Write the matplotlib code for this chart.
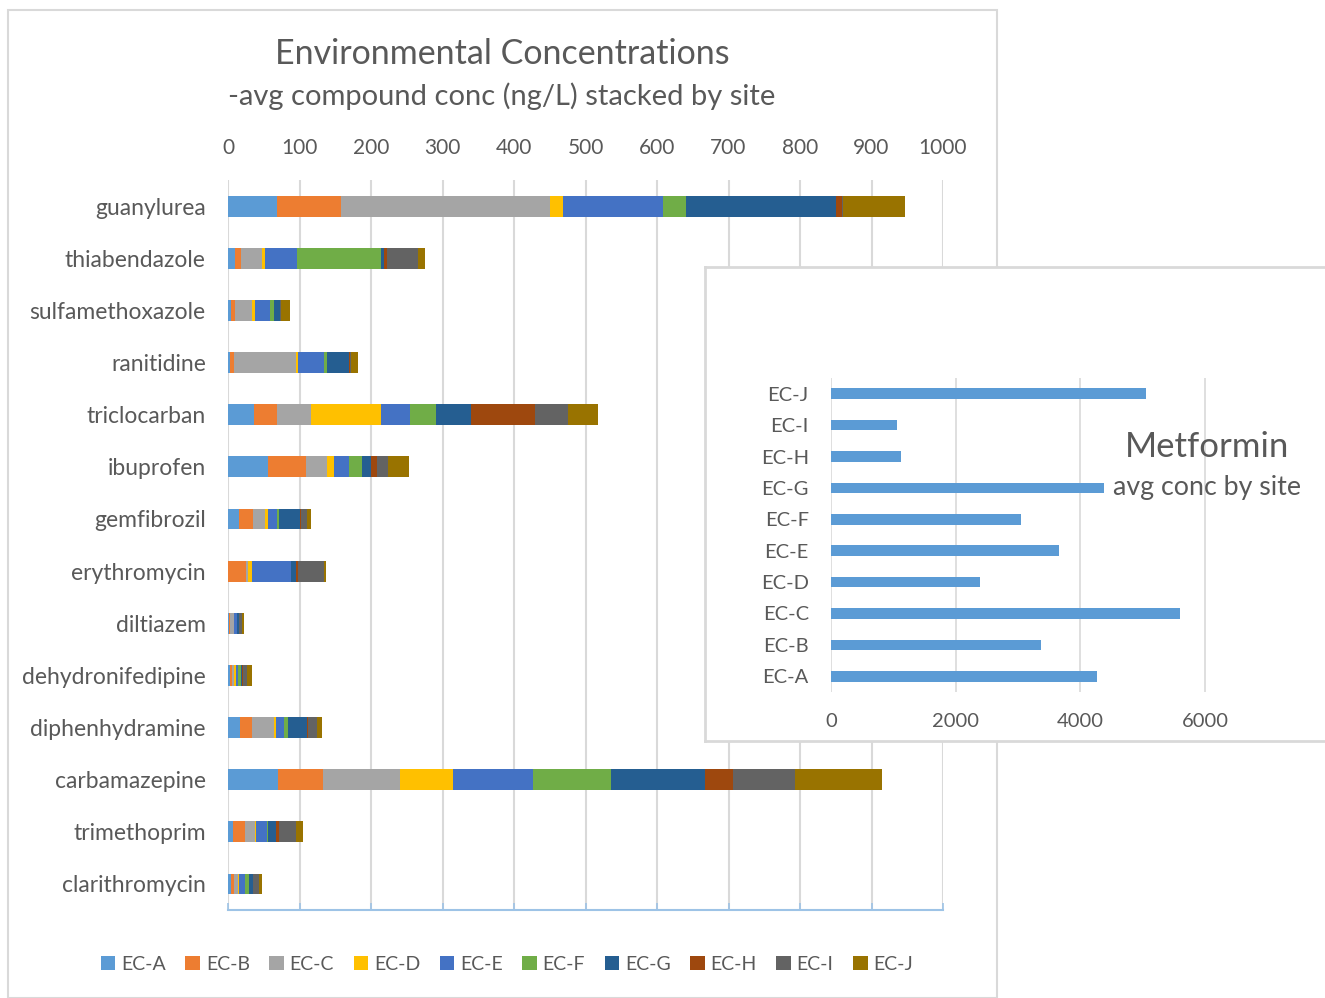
import matplotlib
matplotlib.use("Agg")
import matplotlib.pyplot as plt
from matplotlib.patches import Rectangle
import numpy as np

plt.rcParams['font.family'] = ['Lato', 'DejaVu Sans']

compounds = ["guanylurea", "thiabendazole", "sulfamethoxazole", "ranitidine", "triclocarban",
             "ibuprofen", "gemfibrozil", "erythromycin", "diltiazem", "dehydronifedipine",
             "diphenhydramine", "carbamazepine", "trimethoprim", "clarithromycin"]
sites = ["EC-A", "EC-B", "EC-C", "EC-D", "EC-E", "EC-F", "EC-G", "EC-H", "EC-I", "EC-J"]

ec_a = [69, 9.5, 4.7, 3.3, 36.3, 55.4, 14.9, 0.5, 1, 3, 17, 69.4, 7, 3.7]
ec_b = [89, 8, 4.7, 5.1, 32.1, 53.1, 20, 25, 2, 3, 16.2, 63, 16.3, 4.7]
ec_c = [292, 30.6, 24.7, 87, 47.5, 29.3, 16.8, 1.9, 5.5, 3, 31.8, 108.6, 14.4, 5.6]
ec_d = [18, 3, 4.2, 1.9, 98.7, 9.8, 3.7, 6, 0.5, 1.5, 1.9, 73.7, 1, 0.9]
ec_e = [140, 46, 20.5, 36.8, 39.6, 21, 13, 54.5, 3.5, 3, 11.9, 112.4, 15.4, 8.4]
ec_f = [33, 117, 5.6, 3.7, 37.3, 18.2, 2.8, 0.3, 0.5, 4.5, 5, 108.6, 1.4, 6.5]
ec_g = [210, 4.4, 8.4, 31.7, 48, 13, 29.3, 7.5, 2, 2, 26.8, 131.1, 11.6, 5.1]
ec_h = [7.5, 3.7, 0.5, 0.5, 89.4, 8.4, 1.4, 1.9, 0.5, 1.5, 1.2, 39.3, 4.2, 0.5]
ec_i = [1, 43, 0.5, 1.4, 46.1, 15.4, 8.8, 37.3, 4.5, 5, 13.1, 86.8, 23.3, 7.9]
ec_j = [88, 10.6, 13, 9.8, 41.9, 29.3, 4.7, 2.8, 3, 6.5, 6.2, 121.7, 9.8, 3.7]

metformin_sites = ["EC-A", "EC-B", "EC-C", "EC-D", "EC-E", "EC-F", "EC-G", "EC-H", "EC-I", "EC-J"]
metformin_conc = [4272, 3362, 5604, 2395, 3650, 3055, 4387, 1121, 1057, 5046]

main_ticks = [0, 100, 200, 300, 400, 500, 600, 700, 800, 900, 1000]
inset_ticks = [0, 2000, 4000, 6000]

colors = ["#5B9BD5", "#ED7D31", "#A5A5A5", "#FFC000", "#4472C4",
          "#70AD47", "#255E91", "#9E480E", "#636363", "#997300"]
TXT = "#595959"
GRID = "#D9D9D9"

W, H = 1325, 998
fig = plt.figure(figsize=(W / 100, H / 100), dpi=100)

def fx(x):
    return x / W

def fy(y):
    return 1 - y / H

# outer chart border
fig.patches.append(Rectangle((fx(8), fy(998)), fx(997 - 8), (998 - 10) / H,
                             transform=fig.transFigure, facecolor="none",
                             edgecolor=GRID, lw=1.5, zorder=-1))

ax = fig.add_axes([fx(228), fy(910), fx(943 - 228), (910 - 180) / H], zorder=1)
ax.set_facecolor("none")
series = [ec_a, ec_b, ec_c, ec_d, ec_e, ec_f, ec_g, ec_h, ec_i, ec_j]
ypos = np.arange(len(compounds))
left = np.zeros(len(compounds))
for name, vals, c in zip(sites, series, colors):
    vals = np.array(vals, dtype=float)
    ax.barh(ypos, vals, left=left, height=0.4, color=c, label=name, zorder=3)
    left += vals
ax.set_ylim(len(compounds) - 0.5, -0.5)
ax.set_xlim(0, 1000)
ax.set_xticks(main_ticks)
ax.set_yticks(ypos)
ax.set_yticklabels(compounds)
ax.xaxis.grid(True, color=GRID, lw=1.5, zorder=0)
ax.set_axisbelow(True)
for s in ["top", "left", "right"]:
    ax.spines[s].set_visible(False)
ax.spines["bottom"].set_color("#9DC3E6")
ax.spines["bottom"].set_linewidth(1.5)
ax.tick_params(axis="x", top=False, labeltop=True, bottom=True, labelbottom=False,
               direction="in", length=5, width=1.2, color="#9DC3E6",
               labelsize=15, labelcolor=TXT, pad=16)
ax.tick_params(axis="y", length=0, labelsize=16.5, labelcolor=TXT, pad=16)

fig.text(fx(502), fy(54), "Environmental Concentrations", ha="center", va="center",
         fontsize=24.5, color=TXT)
fig.text(fx(502), fy(96), "-avg compound conc (ng/L) stacked by site", ha="center",
         va="center", fontsize=21, color=TXT)

handles, labels = ax.get_legend_handles_labels()
fig.legend(handles, labels, loc="center", bbox_to_anchor=(fx(507), fy(964)), ncol=10,
           frameon=False, fontsize=14, handlelength=0.75, handleheight=0.75,
           handletextpad=0.3, columnspacing=1.0, labelcolor=TXT)

# inset box
box = fig.add_axes([fx(705), fy(741), 1 - fx(705) + 0.01, (741 - 267) / H], zorder=2)
box.set_facecolor("white")
box.set_xticks([])
box.set_yticks([])
for s in box.spines.values():
    s.set_color(GRID)
    s.set_linewidth(2)

scale = (1205 - 831) / 6000.0
iax = fig.add_axes([fx(831), fy(692), 1 - fx(831), (692 - 378) / H], zorder=3)
iax.set_facecolor("none")
iy = np.arange(len(metformin_sites))
iax.barh(iy, metformin_conc, height=0.34, color="#5B9BD5", zorder=3)
iax.set_xlim(0, (W - 831) / scale)
iax.set_ylim(-0.5, len(metformin_sites) - 0.5)
iax.set_xticks(inset_ticks)
iax.set_yticks(iy)
iax.set_yticklabels(metformin_sites)
iax.xaxis.grid(True, color=GRID, lw=1.2, zorder=0)
iax.set_axisbelow(True)
for s in iax.spines.values():
    s.set_visible(False)
iax.tick_params(axis="x", length=0, labelsize=14.5, labelcolor=TXT, pad=15)
iax.tick_params(axis="y", length=0, labelsize=14.5, labelcolor=TXT, pad=16)

fig.text(fx(1207), fy(447), "Metformin", ha="center", va="center", fontsize=25,
         color=TXT, zorder=5)
fig.text(fx(1207), fy(487), "avg conc by site", ha="center", va="center", fontsize=19.3,
         color=TXT, zorder=5)

fig.savefig("out.png", dpi=100)
